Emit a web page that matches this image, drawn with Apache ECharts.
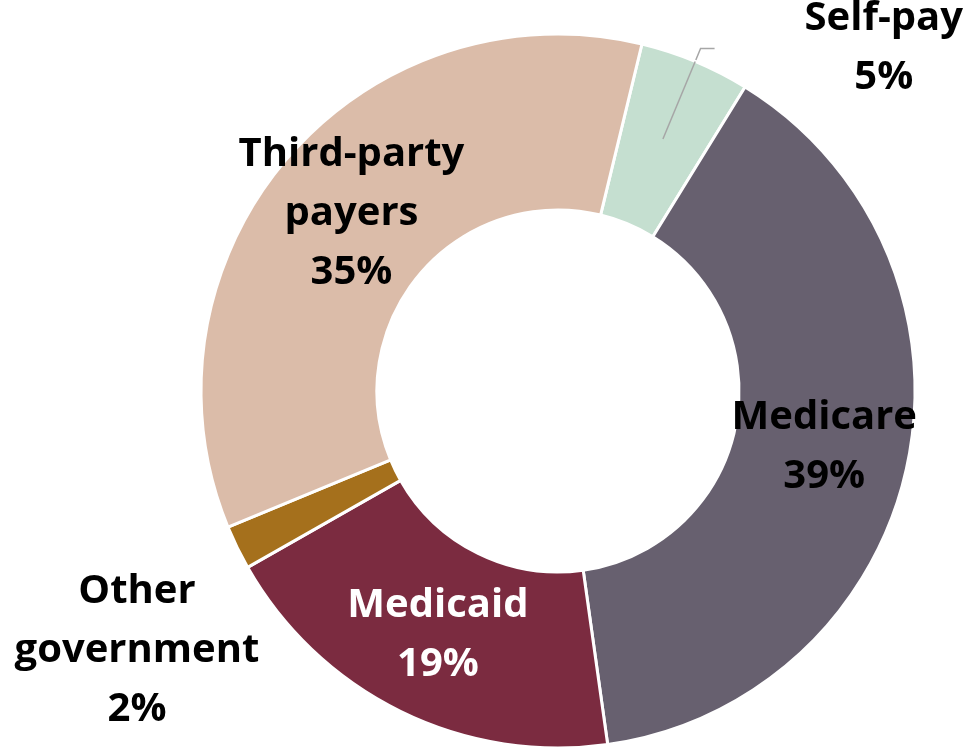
<!DOCTYPE html>
<html>
<head>
<meta charset="utf-8">
<script src="https://cdn.jsdelivr.net/npm/echarts@6/dist/echarts.min.js"></script>
<style>
  html, body { margin: 0; padding: 0; background: #ffffff; }
  #chart { width: 974px; height: 751px; }
</style>
</head>
<body>
<div id="chart"></div>
<script>
// Payer mix, clockwise from the top
const categories = ['Self-pay', 'Medicare', 'Medicaid', 'Other\ngovernment', 'Third-party\npayers'];
const shares = [5, 39, 19, 2, 35];
const colors = ['#c5dfd0', '#67606f', '#7b2b40', '#a5701c', '#dbbca9'];

const FONT = '"Open Sans", "Noto Sans", sans-serif';
const LEADER_COLOR = '#a6a6a6';

const chart = echarts.init(document.getElementById('chart'));

// every label line is a centred token so multi-line text stays centred
function richText(name, value) {
  return (name + '\n' + value + '%').split('\n').map(s => '{t|' + s + '}').join('\n');
}

const cx = 558, cy = 391;
const R_IN = 181, R_OUT = 357;
const START_ANGLE = 76.4;
const LINE_LEN = 14, LINE_LEN2 = 14;

// mid-angle (radians, screen convention) of the slice at index i
function midAngle(i) {
  const total = shares.reduce((a, b) => a + b, 0);
  const before = shares.slice(0, i).reduce((a, b) => a + b, 0);
  const deg = START_ANGLE - (before + shares[i] / 2) / total * 360;
  return deg * Math.PI / 180;
}

// inner part of the Self-pay leader, running from inside the ring out to the rim
const selfPayIdx = categories.indexOf('Self-pay');
const leadA = midAngle(selfPayIdx);
const leaderInner = [
  [cx + Math.cos(leadA) * 273, cy - Math.sin(leadA) * 273],
  [cx + Math.cos(leadA) * R_OUT, cy - Math.sin(leadA) * R_OUT]
];

const data = categories.map((name, i) => {
  const item = { name: name, value: shares[i], itemStyle: { color: colors[i] } };
  if (name === 'Self-pay') {
    item.label = { position: 'outside', distanceToLabelLine: 90 };
    item.labelLine = { show: true };
  } else if (name.indexOf('Other') === 0) {
    item.label = { position: 'outside' };
    item.labelLine = { show: false };
  } else {
    item.label = { position: 'inside' };
    item.labelLine = { show: false };
  }
  if (name === 'Medicaid') {
    item.label.color = '#ffffff';
  }
  return item;
});

chart.setOption({
  backgroundColor: '#ffffff',
  animation: false,
  graphic: [{
    type: 'polyline',
    z: 100,
    silent: true,
    shape: { points: leaderInner },
    style: { stroke: LEADER_COLOR, lineWidth: 1.5, fill: null }
  }],
  series: [{
    type: 'pie',
    center: [cx, cy],
    radius: [R_IN, R_OUT],
    startAngle: START_ANGLE,
    clockwise: true,
    avoidLabelOverlap: false,
    itemStyle: { borderColor: '#ffffff', borderWidth: 3 },
    label: {
      show: true,
      color: '#000000',
      formatter: p => richText(p.name, p.value),
      rich: {
        t: {
          fontFamily: FONT,
          fontSize: 40,
          fontWeight: 'bold',
          lineHeight: 59,
          align: 'center'
        }
      }
    },
    labelLine: {
      length: LINE_LEN,
      length2: LINE_LEN2,
      lineStyle: { color: LEADER_COLOR, width: 1.5 }
    },
    labelLayout: function (p) {
      if (p.dataIndex === 3) {
        return { x: cx - 421, y: cy + 260, align: 'center', verticalAlign: 'middle' };
      }
    },
    emphasis: { disabled: true },
    data: data
  }]
});
</script>
</body>
</html>
